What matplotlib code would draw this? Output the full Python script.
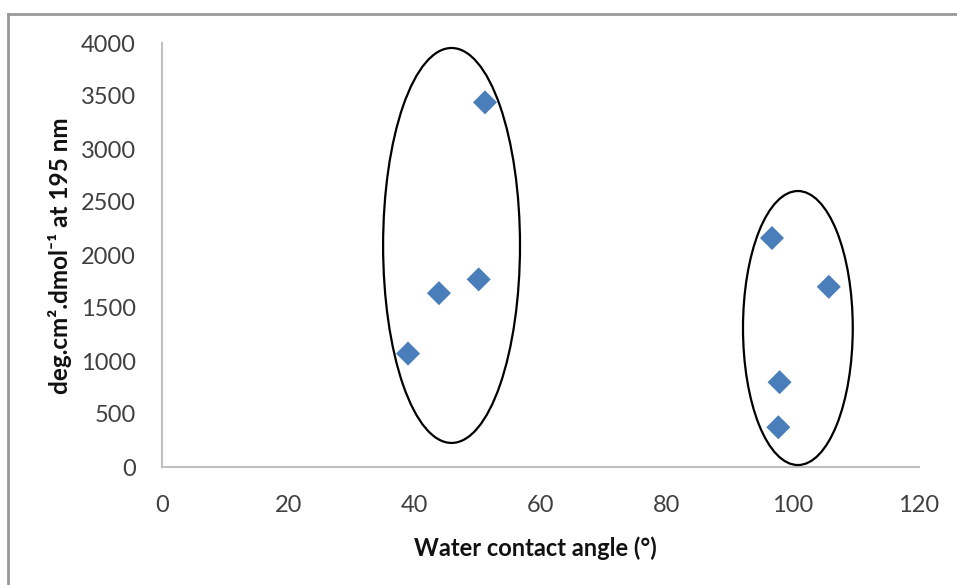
import matplotlib
matplotlib.use("Agg")
import matplotlib.pyplot as plt
from matplotlib.patches import Ellipse
from matplotlib.lines import Line2D

plt.rcParams['font.family'] = ['Lato', 'DejaVu Sans']

# Measurements: water contact angle vs. CD signal at 195 nm
contact_angle = [39.0, 43.9, 50.2, 51.2, 96.7, 105.7, 97.9, 97.7]
signal_195 = [1070, 1640, 1770, 3440, 2160, 1700, 800, 375]

x_ticks = [0, 20, 40, 60, 80, 100, 120]
y_ticks = [0, 500, 1000, 1500, 2000, 2500, 3000, 3500, 4000]

# Groups outlined by ellipses: (center x, center y, width, height)
group_low = (45.9, 2090, 21.7, 3726)
group_high = (100.8, 1311, 17.4, 2585)

W, H = 957, 585
fig = plt.figure(figsize=(W / 100, H / 100), dpi=100)
ax = fig.add_axes([162 / W, (H - 467) / H, 757 / W, 424 / H])

ax.scatter(contact_angle, signal_195, marker='D', s=150, color='#4A7EBB',
           edgecolors='none', zorder=3, clip_on=False)

for cx, cy, w, h in (group_low, group_high):
    ax.add_patch(Ellipse((cx, cy), w, h, fill=False, edgecolor='black',
                         linewidth=1.6, clip_on=False, zorder=4))

ax.set_xlim(0, 120)
ax.set_ylim(0, 4000)
ax.set_xticks(x_ticks)
ax.set_yticks(y_ticks)
ax.tick_params(axis='both', length=0, labelsize=17, colors='#404040')
ax.tick_params(axis='y', pad=19)
ax.tick_params(axis='x', pad=20)
for side in ('top', 'right'):
    ax.spines[side].set_visible(False)
for side in ('left', 'bottom'):
    ax.spines[side].set_color('#BFBFBF')
    ax.spines[side].set_linewidth(1.5)

fig.text(535 / W, 1 - 548 / H, 'Water contact angle (°)', ha='center', va='center',
         fontsize=17, fontweight='bold', color='#111111')
fig.text(60 / W, 1 - 256 / H, 'deg.cm².dmol⁻¹ at 195 nm', ha='center', va='center',
         rotation=90, fontsize=17.5, fontweight='bold', color='#111111')

# Chart-area frame (top and left edges)
fig.add_artist(Line2D([8 / W, 8 / W], [0, 1 - 14 / H], color='#999999', linewidth=2,
                      transform=fig.transFigure))
fig.add_artist(Line2D([8 / W, 1], [1 - 14 / H, 1 - 14 / H], color='#999999', linewidth=2,
                      transform=fig.transFigure))

fig.savefig('out.png', dpi=100, facecolor='white')
